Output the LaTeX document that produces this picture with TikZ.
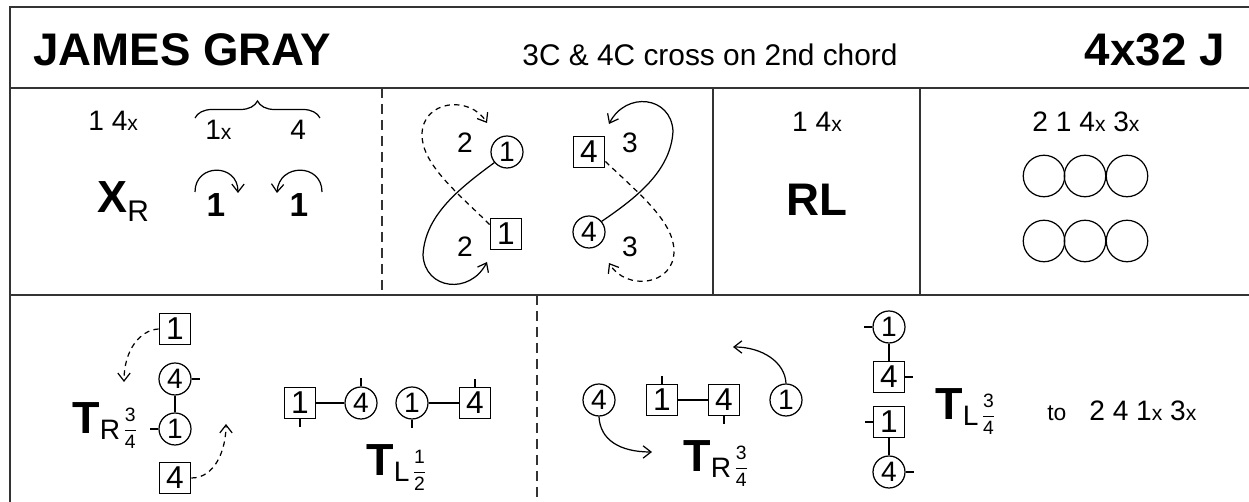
\documentclass[tikz,border=0pt]{standalone}
\usepackage{fontspec}
\setmainfont{Liberation Sans}
\usetikzlibrary{arrows.meta,decorations.pathreplacing}

\newcommand{\numx}{{\fontsize{12}{12}\selectfont x}}
\newcommand{\frc}[2]{\raisebox{-0.5pt}{\fontsize{11}{11}\selectfont$\displaystyle\frac{\hbox{#1}}{\hbox{#2}}$}}
\newcommand{\hold}[4]{{\fontsize{25.6}{26}\selectfont\bfseries #1}\raisebox{-3pt}{\fontsize{16}{16}\selectfont #2}\kern1.5pt\frc{#3}{#4}}

\begin{document}
\begin{tikzpicture}[x=0.02cm,y=-0.02cm,
    frame/.style={line width=0.9pt,black!80},
    bigdash/.style={dash pattern=on 5.7pt off 3.4pt},
    shortdash/.style={dash pattern=on 3pt off 2.5pt},
    man/.style={circle,draw,line width=0.7pt,inner sep=0pt,minimum size=0.64cm,font=\fontsize{16}{16}\selectfont},
    woman/.style={rectangle,draw,line width=0.7pt,inner sep=0pt,minimum size=0.63cm,font=\fontsize{18}{18}\selectfont},
    place/.style={circle,draw,line width=0.7pt,inner sep=0pt,minimum size=0.83cm},
    hand/.style={line width=1.2pt},
    facing/.style={line width=0.7pt},
    track/.style={line width=0.7pt,-{Straight Barb[length=4.5pt,width=7pt]}},
    txt/.style={inner sep=0pt,font=\fontsize{16}{16}\selectfont},
    big/.style={font=\fontsize{26}{26}\selectfont\bfseries}]

    \useasboundingbox (0,0) rectangle (1249,502);

    % frame
    \draw[frame] (10,502) -- (10,7) -- (1249,7);
    \draw[frame] (10,88) -- (1249,88);
    \draw[frame] (10,295) -- (1249,295);
    \draw[frame,bigdash] (382,88) -- (382,295);
    \draw[frame] (713,88) -- (713,295);
    \draw[frame] (920,88) -- (920,295);
    \draw[frame,bigdash] (537,295) -- (537,502);

    % title
    \node[txt,big,anchor=base west] (name) at (33,66) {JAMES GRAY};
    \node[txt,anchor=base,font=\fontsize{17}{17}\selectfont] (note) at (710,66) {3C \& 4C cross on 2nd chord};
    \node[txt,big,anchor=base east] (form) at (1225,66) {4x32 J};

    % bars 1-8
    \node[txt,anchor=base west] (b1top) at (88,131) {1 4\numx};
    \draw[line width=0.7pt,decorate,decoration={brace,amplitude=0.34cm}] (195,118) -- (320,118);
    \node[txt,anchor=base west] (b1a) at (205,140) {1\numx};
    \node[txt,anchor=base west] (b1b) at (290,140) {4};
    \node[txt,anchor=base west] (xr) at (97,213) {{\fontsize{25.6}{26}\selectfont\bfseries X}\raisebox{-5pt}{\fontsize{17}{17}\selectfont R}};
    \node[txt,anchor=base,font=\fontsize{19}{19}\selectfont\bfseries] (turna) at (216,217) {1};
    \node[txt,anchor=base,font=\fontsize{19}{19}\selectfont\bfseries] (turnb) at (299,217) {1};
    \draw[track] (195,192) .. controls (195,163) and (238,163) .. (238,193);
    \draw[track] (322,192) .. controls (322,163) and (279,163) .. (277,193);

    % bars 9-16
    \node[man] (m1) at (507,152) {1};
    \node[woman] (w1) at (506,234) {1};
    \node[woman] (w4) at (589,152) {4};
    \node[man] (m4) at (589,232) {4};
    \node[txt] (l2a) at (465,143) {2};
    \node[txt] (l2b) at (465,247) {2};
    \node[txt] (l3a) at (630,143) {3};
    \node[txt] (l3b) at (630,247) {3};
    \coordinate (e1) at (487,262);
    \coordinate (e2) at (487,123);
    \coordinate (e3) at (609,124);
    \coordinate (e4) at (609,263);
    \draw[track] (m1.220) .. controls (460,188) and (425,215) .. (423,255) .. controls (425,290) and (470,295) .. (e1);
    \draw[track,shortdash] (w1.150) .. controls (460,195) and (422,165) .. (422,135) .. controls (422,100) and (470,95) .. (e2);
    \draw[track] (m4.40) .. controls (636,198) and (671,171) .. (673,131) .. controls (671,96) and (626,91) .. (e3);
    \draw[track,shortdash] (w4.330) .. controls (636,191) and (674,221) .. (674,251) .. controls (674,286) and (626,291) .. (e4);

    % bars 17-24
    \node[txt,anchor=base] (b3top) at (817,132) {1 4\numx};
    \node[txt,big,anchor=base] (rl) at (817,216) {RL};

    % bars 25-32
    \node[txt,anchor=base] (b4top) at (1086,132) {2 1 4\numx{} 3\numx};
    \foreach \x in {1044,1085,1127} {
        \node[place] (pa\x) at (\x,176) {};
        \node[place] (pb\x) at (\x,241) {};
    }

    % second row, bars 1-8
    \node[woman] (sa1) at (175,329) {1};
    \node[man] (ca4) at (175,379) {4};
    \node[man] (ca1) at (175,429) {1};
    \node[woman] (sa4) at (175,478) {4};
    \draw[hand] (ca4) -- (ca1);
    \draw[facing] (ca4.east) -- ++(8,0);
    \draw[facing] (ca1.west) -- ++(-8,0);
    \coordinate (fa) at (124,382);
    \coordinate (fb) at (226,424);
    \draw[track,shortdash] (sa1.west) .. controls (140,330) and (124,350) .. (fa);
    \draw[track,shortdash] (sa4.east) .. controls (215,478) and (226,450) .. (fb);
    \node[txt,anchor=base west] (tra) at (72,434) {\hold{T}{R}{3}{4}};

    \node[woman] (sb1) at (300,403) {1};
    \node[man] (cb4) at (361,403) {4};
    \node[man] (cb1) at (412,403) {1};
    \node[woman] (sb4) at (475,403) {4};
    \draw[hand] (sb1) -- (cb4);
    \draw[hand] (cb1) -- (sb4);
    \draw[facing] (sb1.south) -- ++(0,8);
    \draw[facing] (cb4.north) -- ++(0,-8);
    \draw[facing] (cb1.south) -- ++(0,8);
    \draw[facing] (sb4.north) -- ++(0,-8);
    \node[txt,anchor=base west] (tla) at (366,476) {\hold{T}{L}{1}{2}};

    % second row, bars 9-16
    \node[man] (cc4) at (599,400) {4};
    \node[woman] (sc1) at (662,400) {1};
    \node[woman] (sc4) at (724,400) {4};
    \node[man] (cc1) at (786,400) {1};
    \draw[hand] (sc1) -- (sc4);
    \draw[facing] (sc1.north) -- ++(0,-8);
    \draw[facing] (sc4.south) -- ++(0,8);
    \coordinate (fc) at (733,347);
    \coordinate (fd) at (652,452);
    \draw[track] (cc1.north) .. controls (785,362) and (762,347) .. (fc);
    \draw[track] (cc4.south) .. controls (600,440) and (620,452) .. (fd);
    \node[txt,anchor=base west] (trb) at (683,472) {\hold{T}{R}{3}{4}};

    \node[man] (cd1) at (889,327) {1};
    \node[woman] (sd4) at (889,377) {4};
    \node[woman] (sd1) at (889,422) {1};
    \node[man] (cd4) at (889,472) {4};
    \draw[hand] (cd1) -- (sd4);
    \draw[hand] (sd1) -- (cd4);
    \draw[facing] (cd1.west) -- ++(-8,0);
    \draw[facing] (sd4.east) -- ++(8,0);
    \draw[facing] (sd1.west) -- ++(-8,0);
    \draw[facing] (cd4.east) -- ++(8,0);
    \node[txt,anchor=base west] (tlb) at (935,420) {\hold{T}{L}{3}{4}};
    \node[txt,anchor=base west,font=\fontsize{13}{13}\selectfont] (to) at (1047,421) {to};
    \node[txt,anchor=base west] (final) at (1089,421) {2 4 1\numx{} 3\numx};
\end{tikzpicture}
\end{document}
